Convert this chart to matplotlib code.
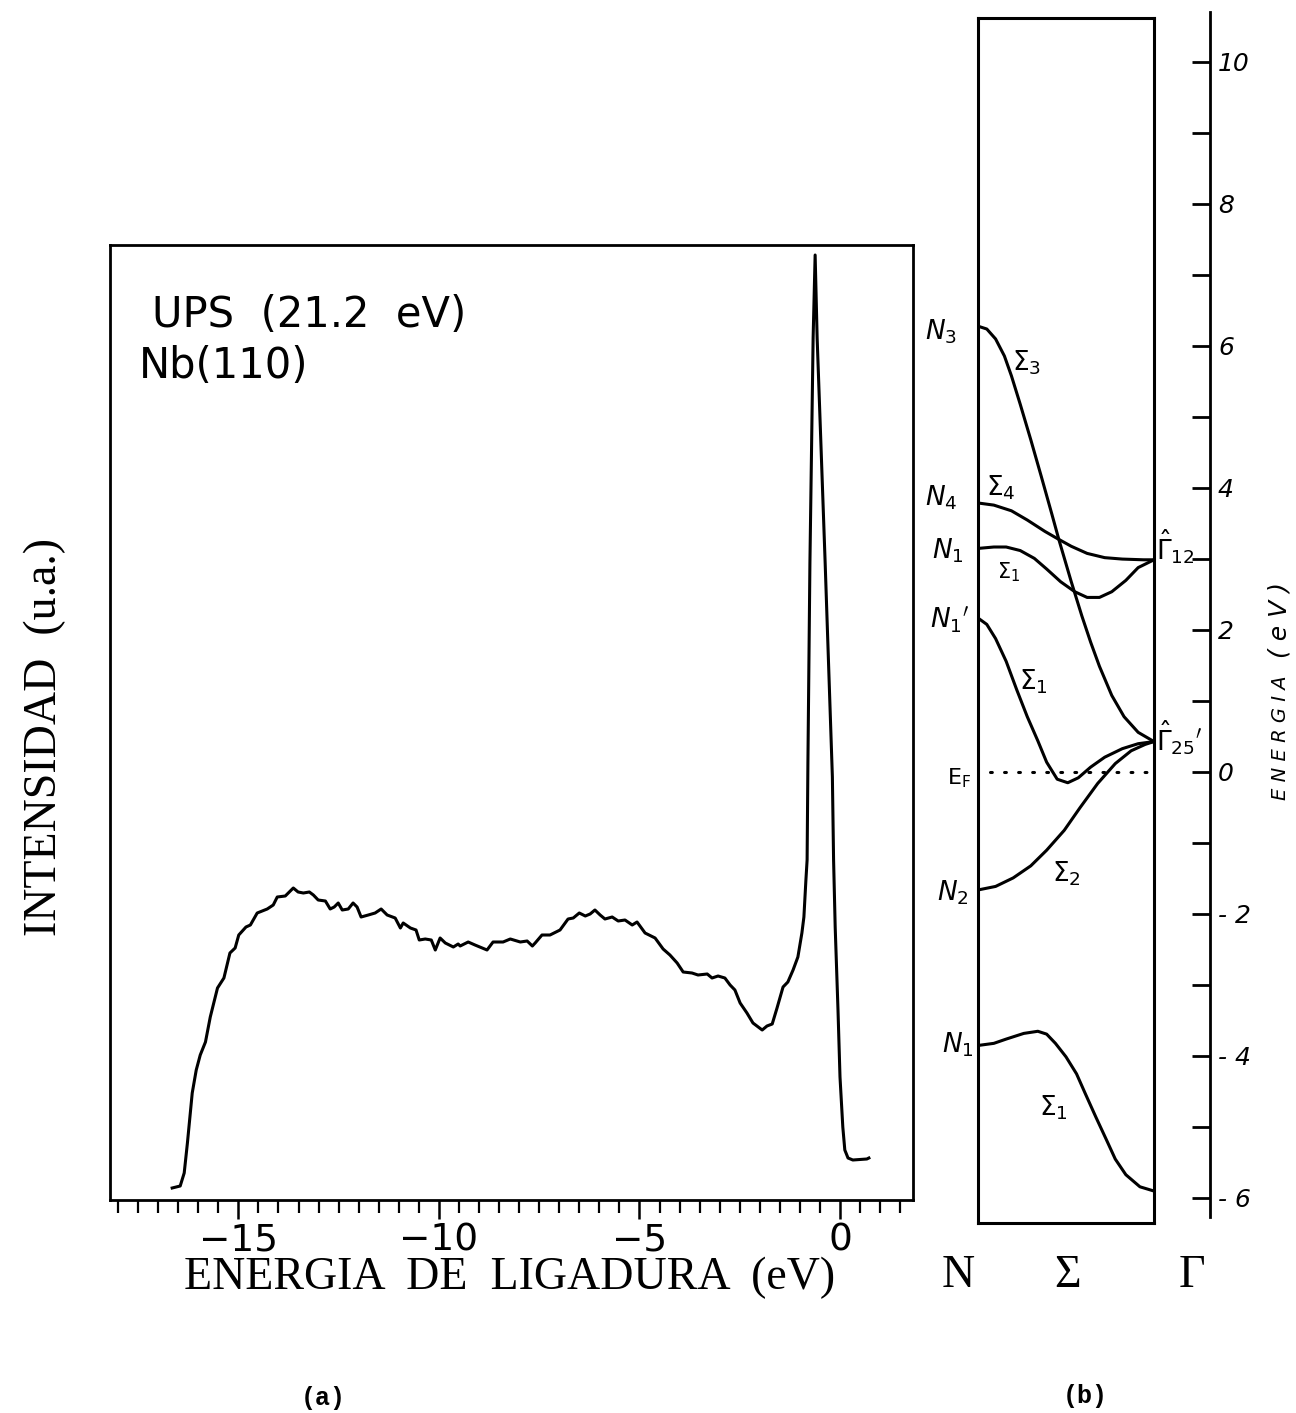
import matplotlib
matplotlib.use("Agg")
from matplotlib import pyplot as plt
from matplotlib.ticker import FixedLocator, MultipleLocator

W, H = 1296, 1413

# (a) UPS spectrum of Nb(110): binding energy (eV) and intensity (arbitrary units)
ups_energy = [
    -16.65, -16.45, -16.35, -16.27, -16.15, -16.05, -15.95, -15.82, -15.70, -15.52,
    -15.36, -15.21, -15.08, -14.99, -14.81, -14.70, -14.53, -14.28, -14.13, -14.03,
    -13.83, -13.63, -13.51, -13.38, -13.23, -13.13, -13.01, -12.83, -12.71, -12.61,
    -12.51, -12.41, -12.26, -12.14, -12.04, -11.94, -11.76, -11.59, -11.44, -11.29,
    -11.09, -10.96, -10.89, -10.71, -10.57, -10.49, -10.34, -10.19, -10.09, -9.97,
    -9.84, -9.64, -9.52, -9.47, -9.27, -9.10, -8.80, -8.65, -8.40, -8.22,
    -7.97, -7.80, -7.67, -7.60, -7.43, -7.23, -6.98, -6.78, -6.65, -6.50,
    -6.35, -6.23, -6.11, -5.98, -5.86, -5.68, -5.53, -5.36, -5.18, -5.06,
    -4.86, -4.61, -4.41, -4.24, -4.06, -3.91, -3.69, -3.54, -3.31, -3.19,
    -3.04, -2.87, -2.74, -2.62, -2.49, -2.32, -2.17, -1.94, -1.82, -1.69,
    -1.57, -1.42, -1.30, -1.17, -1.05, -0.95, -0.90, -0.85, -0.82, -0.80,
    -0.75, -0.67, -0.62, -0.57, -0.37, -0.19, -0.16, -0.12, -0.05, 0.00,
    0.07, 0.12, 0.20, 0.32, 0.67, 0.72,
]
ups_intensity = [
    12, 14, 27, 57, 107, 130, 145, 158, 183, 212,
    222, 247, 252, 265, 273, 275, 287, 291, 295, 303,
    304, 312, 308, 307, 308, 305, 300, 299, 291, 293,
    297, 290, 291, 297, 293, 283, 285, 287, 291, 285,
    282, 272, 277, 272, 270, 260, 261, 260, 250, 262,
    257, 253, 256, 254, 258, 255, 250, 258, 258, 261,
    258, 259, 254, 257, 265, 265, 270, 281, 282, 287,
    284, 286, 290, 285, 281, 283, 279, 280, 275, 278,
    267, 262, 251, 245, 237, 228, 227, 225, 226, 222,
    224, 222, 215, 210, 197, 187, 177, 170, 174, 176,
    192, 213, 218, 230, 243, 267, 283, 320, 340, 437,
    637, 862, 945, 862, 637, 423, 340, 273, 190, 123,
    73, 50, 42, 40, 41, 42,
]

# (b) bands along N - Sigma - Gamma (k: 0 = N, 1 = Gamma), energy in eV
sigma3_k = [0, 0.05, 0.10, 0.15, 0.19, 0.24, 0.30, 0.36, 0.42, 0.46, 0.53, 0.59, 0.64, 0.69, 0.76, 0.83, 0.91, 1.0]
sigma3_e = [6.28, 6.24, 6.10, 5.86, 5.58, 5.18, 4.68, 4.16, 3.63, 3.27, 2.68, 2.20, 1.83, 1.49, 1.08, 0.78, 0.56, 0.43]

sigma4_k = [0, 0.09, 0.19, 0.28, 0.38, 0.45, 0.53, 0.62, 0.72, 0.82, 0.94, 1.0]
sigma4_e = [3.79, 3.76, 3.68, 3.55, 3.39, 3.29, 3.18, 3.08, 3.02, 3.00, 2.99, 2.99]

sigma1_up_k = [0, 0.09, 0.16, 0.24, 0.32, 0.39, 0.47, 0.55, 0.62, 0.69, 0.76, 0.84, 0.91, 1.0]
sigma1_up_e = [3.15, 3.17, 3.17, 3.12, 3.01, 2.86, 2.68, 2.54, 2.46, 2.46, 2.54, 2.70, 2.88, 2.99]

sigma1_mid_k = [0, 0.05, 0.10, 0.16, 0.22, 0.28, 0.34, 0.39, 0.45, 0.51, 0.57, 0.64, 0.72, 0.82, 0.91, 1.0]
sigma1_mid_e = [2.17, 2.08, 1.88, 1.56, 1.16, 0.78, 0.44, 0.14, -0.10, -0.15, -0.08, 0.07, 0.21, 0.33, 0.40, 0.43]

sigma2_k = [0, 0.10, 0.20, 0.30, 0.39, 0.49, 0.58, 0.68, 0.78, 0.87, 0.95, 1.0]
sigma2_e = [-1.66, -1.61, -1.49, -1.32, -1.10, -0.82, -0.50, -0.16, 0.12, 0.30, 0.39, 0.43]

sigma1_low_k = [0, 0.09, 0.16, 0.26, 0.34, 0.39, 0.44, 0.50, 0.56, 0.61, 0.67, 0.73, 0.78, 0.84, 0.92, 1.0]
sigma1_low_e = [-3.85, -3.82, -3.76, -3.68, -3.65, -3.69, -3.82, -4.01, -4.25, -4.53, -4.86, -5.18, -5.45, -5.67, -5.84, -5.90]

fermi_k = [0.07, 1.0]
fermi_e = [0, 0]

energy_major = [-6, -4, -2, 0, 2, 4, 6, 8, 10]
energy_labels = ["- 6", "- 4", "- 2", "0", "2", "4", "6", "8", "10"]
energy_minor = [-5, -3, -1, 1, 3, 5, 7, 9]
binding_major = [-15, -10, -5, 0]


def px_rect(left, top, right, bottom):
    return [left / W, 1 - bottom / H, (right - left) / W, (bottom - top) / H]


def fig_text(x, y, s, **kw):
    fig.text(x / W, 1 - y / H, s, **kw)


fig = plt.figure(figsize=(W / 100, H / 100), dpi=100)
fig.patch.set_facecolor("white")

# ---------------- panel (a) ----------------
ax = fig.add_axes(px_rect(110, 245, 913, 1200))
ax.plot(ups_energy, ups_intensity, color="black", linewidth=2.2)
ax.set_xlim(-18.2, 1.82)
ax.set_ylim(0, 955)
ax.xaxis.set_major_locator(FixedLocator(binding_major))
ax.xaxis.set_minor_locator(MultipleLocator(0.5))
ax.set_yticks([])
for s in ax.spines.values():
    s.set_linewidth(2.0)
ax.tick_params(axis="x", which="major", direction="out", length=14, width=1.8,
               labelsize=27, pad=2)
ax.tick_params(axis="x", which="minor", direction="out", length=9, width=1.6)
for lab in ax.get_xticklabels():
    lab.set_family("DejaVu Sans")

ax.text(0.052, 0.927, "UPS  (21.2  eV)", transform=ax.transAxes, fontsize=30,
        va="center", ha="left", family="DejaVu Sans")
ax.text(0.036, 0.873, "Nb(110)", transform=ax.transAxes, fontsize=30,
        va="center", ha="left", family="DejaVu Sans")

fig_text(510, 1278, "ENERGIA  DE  LIGADURA  (eV)", fontsize=33, ha="center",
         va="center", family="Liberation Serif")
fig_text(45, 737, "INTENSIDAD  (u.a.)", fontsize=33, ha="center", va="center",
         rotation=90, family="Liberation Serif")

# ---------------- panel (b) ----------------
bx = fig.add_axes(px_rect(978, 18, 1154, 1223))
for k, e in [(sigma3_k, sigma3_e), (sigma4_k, sigma4_e), (sigma1_up_k, sigma1_up_e),
             (sigma1_mid_k, sigma1_mid_e), (sigma2_k, sigma2_e), (sigma1_low_k, sigma1_low_e)]:
    bx.plot(k, e, color="black", linewidth=2.2, solid_capstyle="round",
            solid_joinstyle="round")
bx.plot(fermi_k, fermi_e, color="black", linewidth=2.2, linestyle=(0, (0.6, 4.0)),
        dash_capstyle="round")
bx.set_xlim(0, 1)
bx.set_ylim(-6.35, 10.62)
bx.set_xticks([])
bx.set_yticks([])
for s in bx.spines.values():
    s.set_linewidth(2.2)

# energy scale to the right of the band box
sx = fig.add_axes(px_rect(1210, 12, 1211, 1217))
sx.set_ylim(-6.27, 10.70)
sx.set_xticks([])
for name in ["top", "bottom", "right"]:
    sx.spines[name].set_visible(False)
sx.spines["left"].set_linewidth(2.0)
sx.yaxis.set_major_locator(FixedLocator(energy_major))
sx.yaxis.set_minor_locator(FixedLocator(energy_minor))
sx.set_yticklabels(energy_labels)
sx.tick_params(axis="y", which="both", direction="out", length=13, width=2.0,
               left=True, right=False, labelleft=False, labelright=True,
               labelsize=18, pad=-8)
for lab in sx.get_yticklabels():
    lab.set_style("italic")
    lab.set_family("DejaVu Sans")

fig_text(1280, 738, "E N E R G I A", fontsize=14, rotation=90, ha="center",
         va="center", style="italic")
fig_text(1279, 620, "( e V )", fontsize=18, rotation=90, ha="center",
         va="center", style="italic")

lab_kw = dict(fontsize=19, ha="left", va="center")
fig_text(925, 332, r"$N_3$", **lab_kw)
fig_text(1012, 363, r"$\Sigma_3$", **lab_kw)
fig_text(925, 498, r"$N_4$", **lab_kw)
fig_text(986, 488, r"$\Sigma_4$", **lab_kw)
fig_text(932, 551, r"$N_1$", **lab_kw)
fig_text(997, 572, r"$\Sigma_1$", fontsize=15, ha="left", va="center")
fig_text(930, 620, r"$N_1{}'$", **lab_kw)
fig_text(1019, 682, r"$\Sigma_1$", **lab_kw)
fig_text(947, 778, r"E$_\mathrm{F}$", fontsize=16, ha="left", va="center")
fig_text(937, 893, r"$N_2$", **lab_kw)
fig_text(1052, 874, r"$\Sigma_2$", **lab_kw)
fig_text(942, 1045, r"$N_1$", **lab_kw)
fig_text(1039, 1108, r"$\Sigma_1$", **lab_kw)
fig_text(1156, 547, r"$\hat{\Gamma}_{12}$", **lab_kw)
fig_text(1156, 738, r"$\hat{\Gamma}_{25}{}'$", **lab_kw)

for x, s in [(958, "N"), (1068, "Σ"), (1192, "Γ")]:
    fig_text(x, 1276, s, fontsize=33, ha="center", va="center",
             family="Liberation Serif")

fig_text(323, 1398, "(a)", fontsize=18, ha="center", va="center",
         family="Liberation Mono", weight="bold")
fig_text(1085, 1396, "(b)", fontsize=18, ha="center", va="center",
         family="Liberation Mono", weight="bold")

fig.savefig("out.png", dpi=100, facecolor="white")
